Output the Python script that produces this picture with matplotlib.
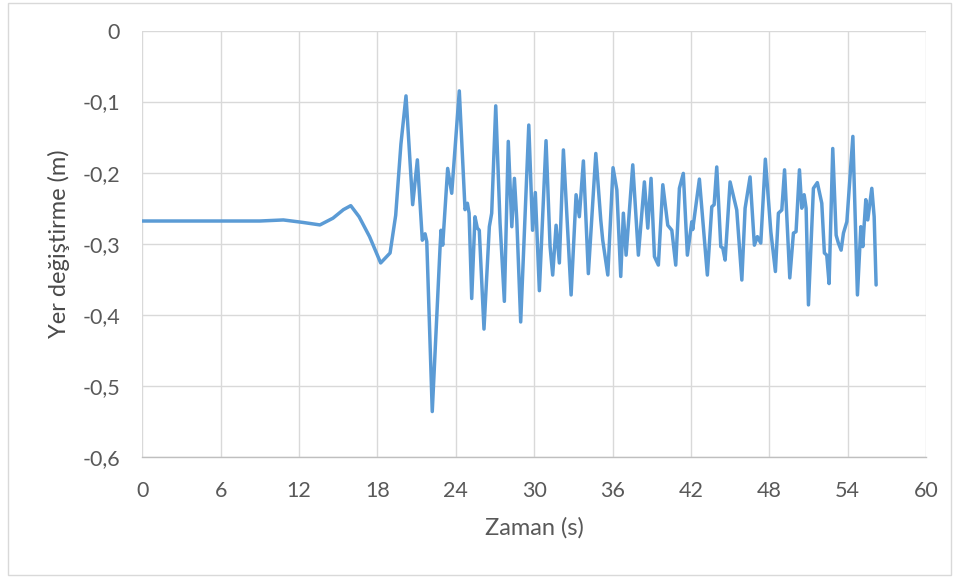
import matplotlib
matplotlib.use("Agg")
import matplotlib.pyplot as plt
from matplotlib.patches import Rectangle

# Ground displacement time history
zaman = [
    0.0, 6.0, 9.0, 10.8, 12.3, 13.6, 14.6, 15.4, 15.96, 16.6, 17.4, 18.25, 18.97,
    19.4, 19.8, 20.19, 20.70, 21.06, 21.44, 21.65, 21.78, 22.2, 22.8, 22.87, 23.0,
    23.38, 23.69, 24.27, 24.71, 24.89, 25.02, 25.22, 25.47, 25.65, 25.8, 26.16,
    26.57, 26.75, 27.06, 27.39, 27.72, 28.02, 28.29, 28.49, 28.67, 28.97, 29.59,
    29.88, 30.09, 30.40, 30.91, 31.22, 31.42, 31.68, 31.93, 32.24, 32.83, 33.21,
    33.46, 33.77, 34.15, 34.72, 35.1, 35.25, 35.64, 36.04, 36.33, 36.63, 36.83,
    37.04, 37.55, 37.98, 38.44, 38.70, 38.95, 39.21, 39.51, 39.85, 40.23, 40.54,
    40.84, 41.12, 41.42, 41.73, 42.07, 42.14, 42.65, 43.26, 43.6, 43.78, 43.98,
    44.29, 44.44, 44.62, 45.0, 45.51, 45.9, 46.15, 46.53, 46.86, 47.09, 47.35,
    47.7, 48.12, 48.47, 48.70, 48.96, 49.17, 49.57, 49.85, 50.05, 50.31, 50.49,
    50.67, 50.82, 51.0, 51.38, 51.68, 52.02, 52.22, 52.4, 52.58, 52.86, 53.12,
    53.29, 53.5, 53.68, 53.94, 54.4, 54.75, 55.01, 55.16, 55.39, 55.54, 55.85,
    56.03, 56.18,
]
yer_degistirme = [
    -0.268, -0.268, -0.268, -0.2665, -0.270, -0.2735, -0.264, -0.252, -0.2464,
    -0.262, -0.290, -0.327, -0.313, -0.26, -0.16, -0.092, -0.245, -0.182, -0.295,
    -0.286, -0.297, -0.536, -0.304, -0.281, -0.302, -0.194, -0.229, -0.085,
    -0.252, -0.243, -0.257, -0.377, -0.262, -0.278, -0.281, -0.420, -0.276,
    -0.257, -0.106, -0.271, -0.381, -0.156, -0.276, -0.208, -0.266, -0.410,
    -0.133, -0.281, -0.228, -0.366, -0.155, -0.304, -0.344, -0.274, -0.327,
    -0.168, -0.372, -0.231, -0.262, -0.1835, -0.342, -0.173, -0.2665, -0.295,
    -0.344, -0.193, -0.224, -0.346, -0.257, -0.316, -0.189, -0.316, -0.213,
    -0.278, -0.208, -0.318, -0.330, -0.217, -0.274, -0.281, -0.330, -0.222,
    -0.201, -0.316, -0.269, -0.280, -0.209, -0.344, -0.248, -0.245, -0.192,
    -0.304, -0.306, -0.323, -0.213, -0.2525, -0.351, -0.250, -0.206, -0.302,
    -0.290, -0.299, -0.181, -0.283, -0.339, -0.257, -0.2525, -0.196, -0.348,
    -0.285, -0.283, -0.196, -0.250, -0.231, -0.250, -0.386, -0.222, -0.214,
    -0.243, -0.313, -0.316, -0.356, -0.166, -0.288, -0.299, -0.309, -0.285,
    -0.269, -0.149, -0.372, -0.276, -0.304, -0.238, -0.2665, -0.222, -0.262,
    -0.358,
]

x_ticks = [0, 6, 12, 18, 24, 30, 36, 42, 48, 54, 60]
y_ticks = [0, -0.1, -0.2, -0.3, -0.4, -0.5, -0.6]
y_tick_labels = ["0", "-0,1", "-0,2", "-0,3", "-0,4", "-0,5", "-0,6"]

plt.rcParams["font.family"] = ["Lato", "DejaVu Sans"]

fig = plt.figure(figsize=(9.6, 5.81), dpi=100)
ax = fig.add_axes([0.1482, 0.2134, 0.8164, 0.7341])

ax.plot(zaman, yer_degistirme, color="#5B9BD5", linewidth=2.5,
        solid_joinstyle="round", solid_capstyle="round", zorder=3)

ax.set_xlim(0, 60)
ax.set_ylim(-0.6, 0)
ax.set_xticks(x_ticks)
ax.set_xticklabels([str(t) for t in x_ticks])
ax.set_yticks(y_ticks)
ax.set_yticklabels(y_tick_labels)

ax.grid(True, color="#d9d9d9", linewidth=1.0, zorder=0)
ax.set_axisbelow(True)
for side in ["left", "right", "top"]:
    ax.spines[side].set_visible(False)
ax.spines["bottom"].set_color("#bfbfbf")
ax.spines["bottom"].set_linewidth(1.0)

ax.tick_params(axis="both", length=0, labelsize=15.5, colors="#595959")
ax.tick_params(axis="y", pad=16)
ax.tick_params(axis="x", pad=17)

ax.set_xlabel("Zaman (s)", fontsize=17, color="#595959", va="center")
ax.xaxis.set_label_coords(0.5, -0.1665)
ax.set_ylabel("Yer değiştirme (m)", fontsize=17, color="#4a4a4a", va="center")
ax.yaxis.set_label_coords(-0.106, 0.5)

# Chart area border
fig.patches.append(Rectangle((0.0083, 0.0103), 0.9823, 0.9845,
                             transform=fig.transFigure, fill=False,
                             edgecolor="#d9d9d9", linewidth=1.0))

fig.savefig("out.png", dpi=100, facecolor="white")
